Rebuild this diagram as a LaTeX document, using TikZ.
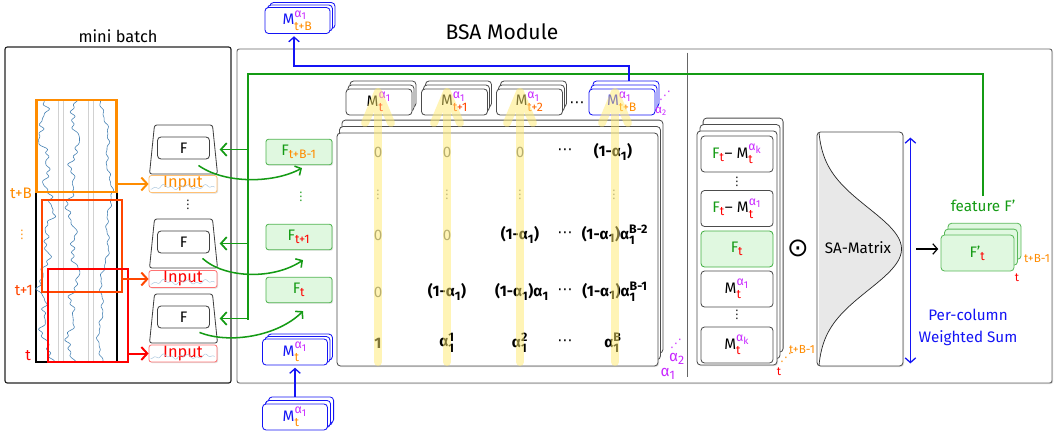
\documentclass[tikz,border=0pt]{standalone}
\usepackage{fontspec}
\usepackage{amsmath}
\setmainfont{Fira Sans}
\newfontfamily\dvfont{DejaVu Sans}
\DeclareMathSizes{13}{13}{10.5}{8.5}
\usetikzlibrary{arrows.meta,shadows,calc}

\definecolor{cOr}{RGB}{255,140,0}
\definecolor{cT1}{RGB}{255,70,0}
\definecolor{cT2}{RGB}{255,105,0}
\definecolor{cRd}{RGB}{255,0,0}
\definecolor{cGr}{RGB}{20,155,20}
\definecolor{cGf}{RGB}{224,248,224}
\definecolor{cBl}{RGB}{20,20,245}
\definecolor{cMg}{RGB}{200,40,255}
\definecolor{cSig}{RGB}{70,130,180}
\definecolor{cYl}{RGB}{255,235,110}

\newcommand{\tx}[1]{\text{#1}}
\newcommand{\alx}[1]{\tx{α}_{\tx{#1}}}
\newcommand{\vdt}{{\dvfont ⋮}}
\newcommand{\udt}{{\dvfont ⋰}}
\newcommand{\hdt}{{\dvfont ⋯}}
\newcommand{\Ft}{\textcolor{cGr}{\tx{F}}_{\textcolor{cRd}{\tx{t}}}}
\newcommand{\Mk}[1]{\tx{M}^{\textcolor{cMg}{\alx{#1}}}_{\textcolor{cRd}{\tx{t}}}}
\newcommand{\Mc}[3]{\textcolor{#1}{\tx{M}}^{\textcolor{cMg}{\alx{1}}}_{\textcolor{#2}{\tx{#3}}}}

\tikzset{
  shadowed/.style={drop shadow={opacity=0.25,shadow xshift=0.9pt,shadow yshift=-0.9pt}},
  bframe/.style={draw=black!60, line width=0.8pt, rounded corners=2pt, fill=white, inner sep=0pt},
  win/.style={draw=#1, line width=2pt, minimum width=2.4cm, minimum height=2.76cm, inner sep=0pt},
  inbox/.style={draw=#1!55, text=#1, fill=white, line width=0.7pt, rounded corners=2pt,
    minimum width=2.04cm, minimum height=0.51cm, inner sep=0pt, shadowed,
    font=\fontsize{14}{15}\selectfont},
  encline/.style={draw=black!75, line width=0.7pt, fill=white, rounded corners=2pt},
  fin/.style={draw=black!75, line width=0.7pt, fill=white, rounded corners=3pt,
    minimum width=1.56cm, minimum height=0.66cm, inner sep=0pt},
  fbox/.style={draw=cGr!75, fill=cGf, line width=0.7pt, rounded corners=2pt,
    minimum width=1.98cm, minimum height=0.76cm, inner sep=0pt, shadowed},
  mbox/.style={draw=cBl, fill=white, line width=0.7pt, rounded corners=3pt,
    minimum width=1.95cm, minimum height=0.78cm, inner sep=0pt,
    double copy shadow={shadow xshift=2.1pt, shadow yshift=2.1pt}},
  hdr/.style={draw=black!70, fill=white, line width=0.7pt, rounded corners=3pt,
    minimum width=1.98cm, minimum height=0.78cm, inner sep=0pt,
    double copy shadow={shadow xshift=1.7pt, shadow yshift=3.4pt}},
  mat/.style={draw=black!70, fill=white, line width=0.7pt, rounded corners=3pt,
    minimum width=9.63cm, minimum height=6.99cm, shadowed,
    double copy shadow={shadow xshift=2.1pt, shadow yshift=5.5pt}},
  stk/.style={draw=black!70, fill=white, line width=0.7pt, rounded corners=3pt,
    minimum width=2.4cm, minimum height=7.02cm, shadowed,
    double copy shadow={shadow xshift=2.6pt, shadow yshift=5.5pt}},
  cell/.style={draw=black!70, fill=white, line width=0.7pt, rounded corners=3pt,
    minimum width=2.16cm, minimum height=1.08cm, inner sep=0pt},
  sabox/.style={draw=black!70, fill=white, line width=0.7pt, rounded corners=3pt,
    minimum width=2.58cm, minimum height=7.02cm, shadowed},
  fpbox/.style={draw=cGr!70, fill=cGf, line width=0.7pt, rounded corners=3pt,
    minimum width=2.19cm, minimum height=1.08cm, inner sep=0pt,
    double copy shadow={shadow xshift=3pt, shadow yshift=5pt}},
  zero/.style={text=black!55},
  mtx/.style={font=\fontsize{13}{15}\selectfont\bfseries, inner sep=1pt},
  sublab/.style={font=\fontsize{10}{12}\selectfont},
  sig/.style={draw=cSig, line width=0.5pt},
  ybar/.style={draw=cYl, opacity=0.5, line width=6.8pt, line cap=round, line join=round},
  warr/.style={line width=1.7pt, -{Straight Barb[length=5pt,width=11pt]}},
  gline/.style={draw=cGr, line width=1.5pt},
  garr/.style={draw=cGr, line width=1.5pt, -{Straight Barb[length=5pt,width=11pt]}, shorten >=4pt},
  gcur/.style={draw=cGr, line width=1.3pt, -{Straight Barb[length=4pt,width=9pt]}},
  barr/.style={draw=cBl, line width=1.1pt, -{Straight Barb[length=4pt,width=9pt]}},
  karr/.style={draw=black, line width=1pt, -{Straight Barb[length=4pt,width=9pt]}}
}

\begin{document}
\begin{tikzpicture}[x=0.03cm, y=-0.03cm, font=\fontsize{13}{15}\selectfont]
  \useasboundingbox (0,0) rectangle (1055,439);

  % frames
  \node[bframe, shadowed, minimum width=24.45cm, minimum height=10.02cm] (bsa) at (644.5,216) {};
  \node[font=\fontsize{18}{21}\selectfont] (bsat) at (502,32) {BSA Module};
  \node[bframe, draw=black!85, line width=1pt, minimum width=6.78cm, minimum height=10.08cm] (mb) at (118,215) {};
  \node[font=\fontsize{14}{16}\selectfont] (mbt) at (118,36) {mini batch};
  \draw[black!60, line width=0.7pt] ($(bsa.north west)+(451,4)$) -- ($(bsa.south west)+(451,-6)$);

  % mini batch series
  \draw[line width=0.9pt] (36,100) rectangle (117,362);
  \foreach \g in {58,63,88,93}
    \draw[black!18, line width=0.5pt] (\g,100) -- (\g,362);
  \draw[sig] plot[variable=\t, domain=100:362, samples=240]
    ({46+4*sin(2.1*\t+10)+3*sin(7.3*\t)+2*sin(17*\t+30)+1.4*sin(37*\t)+0.8*sin(53*(\t-100))}, \t);
  \draw[sig] plot[variable=\t, domain=100:362, samples=240]
    ({73+3*sin(2.7*\t+80)+3*sin(8.1*\t+20)+1.5*sin(19*\t)+1.2*sin(41*\t+5)+0.7*sin(49*(\t-100)+20)}, \t);
  \draw[sig] plot[variable=\t, domain=100:362, samples=240]
    ({105+5*sin(1.3*\t+200)+2*sin(6.1*\t)+1*sin(23*\t+50)+0.6*sin(45*(\t-100))}, \t);

  % windows
  \node[win=cOr] (winB) at (76.5,146) {};
  \node[win=cT1] (win1) at (82,246) {};
  \node[win=cRd, minimum height=2.79cm] (win0) at (88,315.5) {};
  \node[text=cOr] (lB) at (21,193) {t+B};
  \node[sublab, text=cOr] (ld) at (22,235) {\vdt};
  \node[text=cT1] (l1) at (24,290) {t+1};
  \node[text=cRd] (l0) at (28,356) {t};

  % inputs and encoders
  \node[inbox=cOr] (inB) at (183,184) {Input};
  \node[inbox=cRd] (in1) at (183,279) {Input};
  \node[inbox=cRd] (in0) at (183,353.5) {Input};
  \foreach \n in {inB,in1,in0} {
    \begin{scope}[shift={(\n.west)}]
      \draw[cSig!45, line width=0.4pt] plot[variable=\t, domain=2:66, samples=60]
        (\t, {3+1.5*sin(17*\t)+1.2*sin(43*\t)});
    \end{scope}
  }
  \draw[warr, cOr] (winB.east |- inB.west) -- (inB.west);
  \draw[warr, cT1] (win1.east |- in1.west) -- (in1.west);
  \draw[warr, cRd] (win0.east |- in0.west) -- (in0.west);
  \foreach \n/\y in {B/148, 1/242, 0/317} {
    \draw[encline] (183.5,\y) ++(-29,-23) -- ++(58,0) -- ++(5,49) -- ++(-68,0) -- cycle;
    \coordinate (enc\n) at (215,{\y+1.5});
    \node[fin] (F\n) at (183.5,\y) {F};
  }
  \node[sublab] (ed) at (188,205) {\vdt};

  % features
  \node[fbox] (fB) at (299,152) {$\textcolor{cGr}{\tx{F}}_{\textcolor{cOr}{\tx{t+B-1}}}$};
  \node[sublab, text=cGr] (fd) at (301,197) {\vdt};
  \node[fbox] (f1) at (299,237) {$\textcolor{cGr}{\tx{F}}_{\textcolor{cRd}{\tx{t+1}}}$};
  \node[fbox] (f0) at (299,290) {$\Ft$};
  \draw[gcur] ($(FB.south)+(15,6)$) .. controls +(25,18) and +(-30,16) .. ($(fB.south)+(3,3)$);
  \draw[gcur] ($(F1.south)+(19,5)$) .. controls +(22,20) and +(-30,20) .. ($(f1.south)+(4,10)$);
  \draw[gcur] ($(F0.south)+(16,4)$) .. controls +(30,12) and +(-25,25) .. ($(f0.south)+(4,8)$);

  % memory boxes
  \node[mbox] (mIn) at (295,352) {$\Mc{cBl}{cOr}{t}$};
  \node[mbox, double copy shadow={shadow xshift=2.6pt, shadow yshift=3pt}] (mOut) at (295,417) {$\Mc{cBl}{cOr}{t}$};
  \node[mbox] (mTop) at (297.5,20.5) {$\Mc{cBl}{cOr}{t+B}$};
  \draw[barr, shorten <=6pt, shorten >=2pt] (mOut.north) -- (mIn.south);

  % matrix
  \node[mat] (mat) at (497.5,249.5) {};
  \node[hdr] (h0) at (379,102) {$\Mc{black}{cRd}{t}$};
  \node[hdr] (h1) at (454.5,102) {$\Mc{black}{cT1}{t+1}$};
  \node[hdr] (h2) at (529.5,102) {$\Mc{black}{cT2}{t+2}$};
  \node (hd) at (577,105) {\hdt};
  \node[hdr, draw=cBl] (hB) at (622,102) {$\Mc{cBl}{cOr}{t+B}$};
  \node[sublab, text=cMg] (hBd) at (665,96) {\udt};
  \node[sublab, text=cMg] (hBa) at (661,111) {$\alx{2}$};

  \foreach \c/\r in {378/152, 447/152, 520/152, 378/235, 447/235, 378/292}
    \node[zero] (z\c-\r) at (\c,\r) {0};
  \foreach \c in {378,447,520,614}
    \node[sublab, zero] (v\c) at (\c,195) {\vdt};
  \foreach \r in {152,235,292,343}
    \node (dots\r) at (565,\r) {\hdt};
  \node[mtx] (m15) at (613,152) {$\tx{(1-}\alx{1}\tx{)}$};
  \node[mtx] (m33) at (520,235) {$\tx{(1-}\alx{1}\tx{)}$};
  \node[mtx] (m35) at (615,235) {$\tx{(1-}\alx{1}\tx{)}\alx{1}^{\tx{B-2}}$};
  \node[mtx] (m42) at (447,292) {$\tx{(1-}\alx{1}\tx{)}$};
  \node[mtx] (m43) at (522,292) {$\tx{(1-}\alx{1}\tx{)}\alx{1}$};
  \node[mtx] (m45) at (615,292) {$\tx{(1-}\alx{1}\tx{)}\alx{1}^{\tx{B-1}}$};
  \node[mtx] (m51) at (378,343) {1};
  \node[mtx] (m52) at (447,343) {$\alx{1}^{\tx{1}}$};
  \node[mtx] (m53) at (520,343) {$\alx{1}^{\tx{2}}$};
  \node[mtx] (m55) at (613,343) {$\alx{1}^{\tx{B}}$};
  \foreach \c in {378,447,520,615}
    \draw[ybar] (\c,362) -- (\c,92) ({\c-13},123) -- (\c,92) -- ({\c+13},123);
  \node[sublab, text=cMg] (md) at (676,344) {\udt};
  \node[text=cMg] (ma2) at (677,359) {$\alx{2}$};
  \node[text=cMg] (ma1) at (668,374) {$\alx{1}$};

  % feedback connectors
  \node[text=cGr] (featl) at (983,206) {feature F’};
  \coordinate (fbL) at (248,74);
  \coordinate (fbB) at (248,320);
  \draw[gline] (featl.north) |- (fbL) -- (fbB);
  \foreach \n in {B,1,0}
    \draw[garr] (fbL |- enc\n) -- (enc\n);
  \coordinate (bT) at (294,66);
  \draw[barr, shorten >=2pt] ($(hB.north)+(7,-8)$) |- (bT) -- (bT |- mTop.south);

  % stack of differences
  \node[stk] (stk) at (737,248) {};
  \node[cell] (c1) at (737,154) {$\Ft$– $\Mk{k}$};
  \node[sublab] (cd1) at (737,182) {\vdt};
  \node[cell] (c2) at (737,208.5) {$\Ft$– $\Mk{1}$};
  \node[cell, fill=cGf, draw=cGr!80] (c3) at (737,249) {$\Ft$};
  \node[cell] (c4) at (737,289) {$\Mk{1}$};
  \node[sublab] (cd2) at (737,315) {\vdt};
  \node[cell] (c5) at (737,345) {$\Mk{k}$};
  \node[sublab, text=cOr] (sl1) at (802,350) {t+B-1};
  \node[sublab, text=cOr] (sd) at (786,358) {\udt};
  \node[sublab, text=cRd] (sl0) at (779,372) {t};
  \node[font=\fontsize{22}{24}\selectfont] (od) at (798,248) {\dvfont ⊙};

  % SA matrix
  \node[sabox] (sa) at (860,249) {};
  \fill[black!9] plot[variable=\t, domain=133:365, samples=90]
    ({817.5+84*exp(-0.5*((\t-249)/41)^2)}, \t) -- cycle;
  \draw[black!85, line width=0.6pt] plot[variable=\t, domain=133:365, samples=90]
    ({817.5+84*exp(-0.5*((\t-249)/41)^2)}, \t);
  \node (sat) at (858,248) {SA-Matrix};
  \draw[barr, {Straight Barb[length=4pt,width=9pt]}-{Straight Barb[length=4pt,width=9pt]}]
    ($(sa.north east)+(7,6)$) -- ($(sa.south east)+(7,-3)$);
  \node[text=cBl] (pc) at (968,315) {Per-column};
  \node[text=cBl] (ws) at (968,338) {Weighted Sum};

  % output feature
  \node[fpbox] (fp) at (977.5,253) {$\textcolor{cGr}{\tx{F’}}_{\textcolor{cRd}{\tx{t}}}$};
  \node[sublab, text=cOr] (fl1) at (1037,259) {t+B-1};
  \node[sublab, text=cRd] (fl0) at (1017,278) {t};
  \draw[karr, shorten >=2pt] ($(sa.east)+(13,0)$) -- (sa.east -| fp.west);
\end{tikzpicture}
\end{document}
